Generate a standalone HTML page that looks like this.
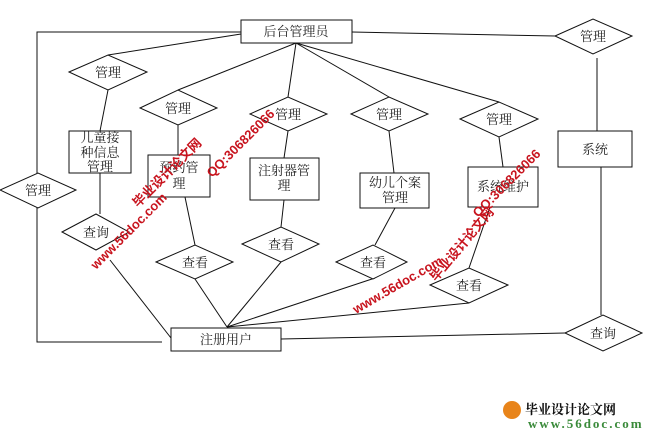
<!DOCTYPE html>
<html><head><meta charset="utf-8"><style>
html,body{margin:0;padding:0;background:#fff;}
svg text{font-family:"Liberation Serif","Noto Serif CJK SC",serif;font-size:13px;fill:#222;}
.wm{font-family:"Liberation Sans","Noto Sans CJK SC",sans-serif;font-weight:bold;fill:#c8141e;}
</style></head><body>
<svg width="660" height="431" viewBox="0 0 660 431" xmlns="http://www.w3.org/2000/svg">
<g stroke="#111" stroke-width="1" fill="none">
<polyline points="241,32 37,32 37,342 162,342"/>
<line x1="352" y1="32" x2="555" y2="36"/>
<line x1="241" y1="34" x2="108" y2="55"/>
<line x1="296" y1="43" x2="178" y2="90"/>
<line x1="296" y1="43" x2="288" y2="97"/>
<line x1="296" y1="43" x2="389" y2="97"/>
<line x1="296" y1="43" x2="499" y2="102"/>
<line x1="108" y1="90" x2="100" y2="131"/>
<line x1="178" y1="125" x2="178" y2="155"/>
<line x1="288" y1="131" x2="284" y2="158"/>
<line x1="389" y1="131" x2="394" y2="173"/>
<line x1="499" y1="137" x2="503" y2="167"/>
<line x1="597" y1="58" x2="597" y2="131"/>
<line x1="601" y1="167" x2="601" y2="315"/>
<line x1="100" y1="173" x2="100" y2="214"/>
<line x1="185" y1="197" x2="195" y2="245"/>
<line x1="284" y1="200" x2="281" y2="227"/>
<line x1="395" y1="208" x2="375" y2="245"/>
<line x1="490" y1="207" x2="469" y2="268"/>
<line x1="110" y1="260" x2="171" y2="338"/>
<line x1="195" y1="279" x2="227" y2="327"/>
<line x1="281" y1="262" x2="227" y2="327"/>
<line x1="375" y1="278" x2="227" y2="327"/>
<line x1="469" y1="303" x2="227" y2="327"/>
<line x1="281" y1="339" x2="565" y2="333"/>
<rect x="241" y="20" width="111" height="23" fill="#fff"/>
<rect x="69" y="131" width="62" height="42" fill="#fff"/>
<rect x="148" y="155" width="62" height="42" fill="#fff"/>
<rect x="250" y="158" width="69" height="42" fill="#fff"/>
<rect x="360" y="173" width="69" height="35" fill="#fff"/>
<rect x="468" y="167" width="70" height="40" fill="#fff"/>
<rect x="558" y="131" width="74" height="36" fill="#fff"/>
<rect x="171" y="328" width="110" height="23" fill="#fff"/>
<polygon points="555,36 593,19 632,36 593,54" fill="#fff"/>
<polygon points="69,72 108,55 147,72 108,90" fill="#fff"/>
<polygon points="140,108 178,90 217,108 178,125" fill="#fff"/>
<polygon points="250,114 288,97 327,114 288,131" fill="#fff"/>
<polygon points="351,114 389,97 428,114 389,131" fill="#fff"/>
<polygon points="460,119 499,102 538,119 499,137" fill="#fff"/>
<polygon points="0,190 38,173 76,190 38,208" fill="#fff"/>
<polygon points="62,232 96,214 129,232 96,250" fill="#fff"/>
<polygon points="156,262 195,245 233,262 195,279" fill="#fff"/>
<polygon points="242,244 281,227 319,244 281,262" fill="#fff"/>
<polygon points="336,262 373,245 407,262 373,279" fill="#fff"/>
<polygon points="430,285 469,268 508,285 469,303" fill="#fff"/>
<polygon points="565,333 603,315 642,333 603,351" fill="#fff"/>
</g>
<g text-anchor="middle">
<text x="296" y="36">后台管理员</text>
<text x="593" y="41">管理</text>
<text x="108" y="77">管理</text>
<text x="178" y="113">管理</text>
<text x="288" y="119">管理</text>
<text x="389" y="119">管理</text>
<text x="499" y="124">管理</text>
<text x="38" y="195">管理</text>
<text x="100" y="142">儿童接</text>
<text x="100" y="157">种信息</text>
<text x="100" y="171">管理</text>
<text x="179" y="172">预约管</text>
<text x="179" y="188">理</text>
<text x="284" y="175">注射器管</text>
<text x="284" y="190">理</text>
<text x="395" y="187">幼儿个案</text>
<text x="395" y="202">管理</text>
<text x="503" y="191">系统维护</text>
<text x="595" y="154">系统</text>
<text x="96" y="237">查询</text>
<text x="195" y="267">查看</text>
<text x="281" y="249">查看</text>
<text x="373" y="267">查看</text>
<text x="469" y="290">查看</text>
<text x="603" y="338">查询</text>
<text x="226" y="344">注册用户</text>
</g>
<text class="wm" font-size="17" transform="translate(138,208) rotate(-45)">毕业设计论文网</text>
<text class="wm" font-size="15" transform="translate(212,178) rotate(-45)">QQ:306826066</text>
<text class="wm" font-size="15" transform="translate(96,270) rotate(-45)">www.56doc.com</text>
<text class="wm" font-size="15" transform="translate(356,314) rotate(-30)">www.56doc.com</text>
<text class="wm" font-size="17" transform="translate(436,282) rotate(-50)">毕业设计论文网</text>
<text class="wm" font-size="15" transform="translate(478,218) rotate(-45)">QQ:306826066</text>
<circle cx="512" cy="410" r="9" fill="#e8841a"/>
<text x="525" y="414" font-family="Liberation Sans,Noto Sans CJK SC,sans-serif" font-size="16" font-weight="bold" style="fill:#111">毕业设计论文网</text>
<text x="528" y="428" font-family="Liberation Sans,sans-serif" font-size="9" font-weight="bold" style="fill:#3a8a3a" letter-spacing="2">www.56doc.com</text>
</svg>
</body></html>
